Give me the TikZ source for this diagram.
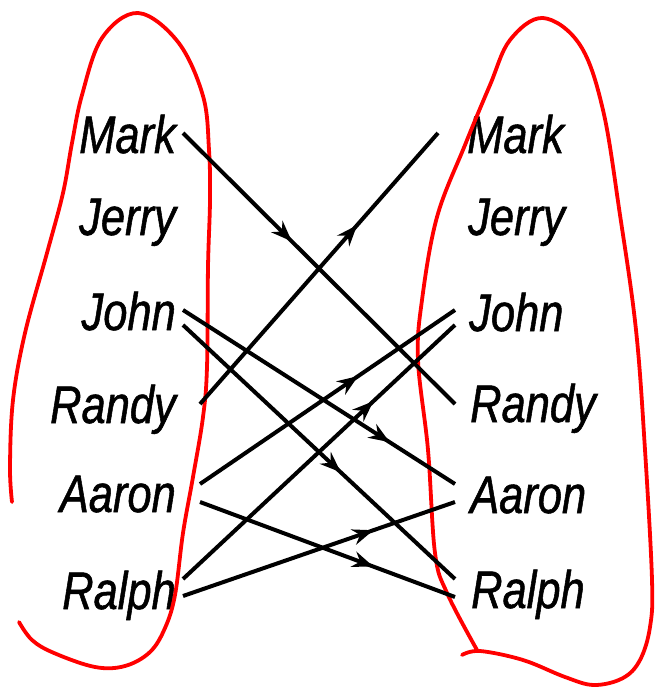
\documentclass[tikz,border=0pt]{standalone}
\usepackage{fontspec}
\newfontfamily\namefont{Liberation Sans}[FakeStretch=0.82, FakeBold=1]
\usetikzlibrary{arrows.meta,calc,decorations.markings}

\tikzset{
  namel/.style={anchor=base east, inner sep=0pt, text height=38pt, text depth=0pt,
    font=\namefont\itshape\fontsize{53pt}{60pt}\selectfont},
  namer/.style={namel, anchor=base west},
  setline/.style={red, line width=3.8pt, smooth, tension=0.6, line cap=round},
  pairline/.style={line width=4pt, postaction={decorate},
    decoration={markings, mark=at position #1 with {\arrow{Stealth[length=21pt,width=16pt,inset=7pt]}}}},
}

\begin{document}
\begin{tikzpicture}[x=1pt, y=-1pt]
    \useasboundingbox (0,0) rectangle (655,687);

    % domain names
    \node[namel] (lmark)  at (176,153) {Mark};
    \node[namel] (ljerry) at (176,235) {Jerry};
    \node[namel] (ljohn)  at (176,330) {John};
    \node[namel] (lrandy) at (176,423) {Randy};
    \node[namel] (laaron) at (176,512) {Aaron};
    \node[namel] (lralph) at (176,609) {Ralph};

    % codomain names
    \node[namer] (rmark)  at (467,153) {Mark};
    \node[namer] (rjerry) at (468,235) {Jerry};
    \node[namer] (rjohn)  at (469,331) {John};
    \node[namer] (rrandy) at (470,422) {Randy};
    \node[namer] (raaron) at (470,513) {Aaron};
    \node[namer] (rralph) at (471,608) {Ralph};

    % the two sets
    \draw[setline] plot coordinates {(12,502) (10,467) (13,400) (25,333) (47,253) (63,193)
        (72,143) (82,95) (102,38) (138,13) (178,42) (203,96) (209,150) (210,200) (208,267)
        (207,367) (203,417) (193,477) (183,533) (175,595) (165,628) (150,652) (125,666)
        (95,667) (54,653) (32,640) (19,622)};
    \draw[setline] plot coordinates {(462,655) (480,651) (523,660) (565,677) (594,685)
        (623,678) (640,660) (650,627) (652,580) (645,450) (636,330) (620,215) (603,110)
        (580,45) (543,18) (510,40) (490,85) (465,145) (437,217) (422,300) (418,360)
        (428,450) (435,553) (447,593) (477,650)};

    % the mapping
    \draw[pairline=0.4]  ($(lmark.east)+(7,-1)$)   -- ($(rrandy.west)+(-15,1)$);
    \draw[pairline=0.66] ($(lrandy.east)+(24,0)$)  -- ($(rmark.west)+(-29,-1)$);
    \draw[pairline=0.76] ($(ljohn.east)+(7,-1)$)   -- ($(raaron.west)+(-15,-10)$);
    \draw[pairline=0.58] ($(ljohn.east)+(7,14)$)   -- ($(rralph.west)+(-16,-10)$);
    \draw[pairline=0.62] ($(laaron.east)+(24,-9)$) -- ($(rjohn.west)+(-14,-2)$);
    \draw[pairline=0.68] ($(laaron.east)+(24,9)$)  -- ($(rralph.west)+(-16,8)$);
    \draw[pairline=0.70] ($(lralph.east)+(7,-11)$) -- ($(rjohn.west)+(-14,13)$);
    \draw[pairline=0.70] ($(lralph.east)+(7,6)$)   -- ($(raaron.west)+(-15,8)$);
\end{tikzpicture}
\end{document}
